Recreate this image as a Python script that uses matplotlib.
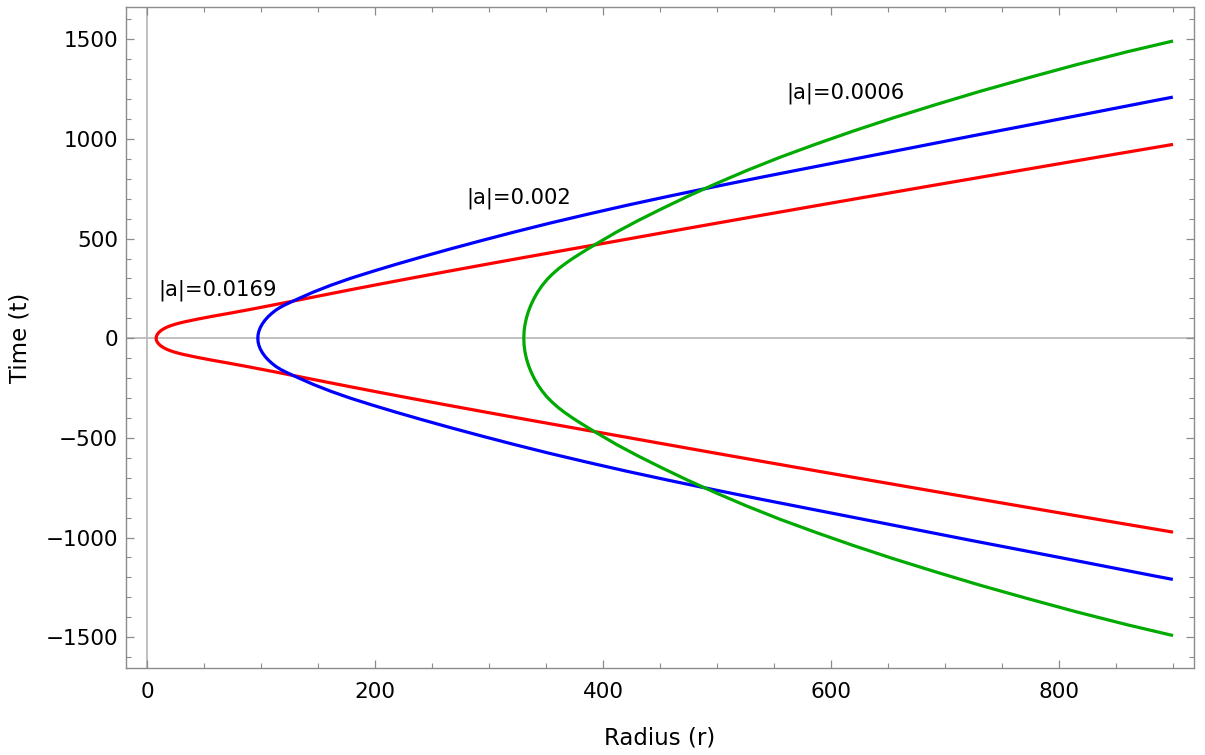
import numpy as np
import matplotlib
matplotlib.use("Agg")
import matplotlib.pyplot as plt
from matplotlib.ticker import MultipleLocator

# ---- data (upper branch; curves are mirror-symmetric in t) ----
r_red = [8, 8.25, 9, 10.25, 12, 14.25, 17, 20.25, 24, 28.25, 33, 44, 57, 72, 89, 108,
         129, 152, 177, 204, 233, 264, 297, 332, 369, 408, 449, 492, 537, 584, 633,
         684, 737, 792, 849, 900]
t_red = [0, 9.5, 19, 28.4, 37.6, 46.25, 54.6, 62.1, 69.2, 76.05, 82.5, 95.7, 109.9,
         125.2, 143.1, 164, 187.6, 213.6, 241.8, 271.6, 303, 336, 370.6, 406.8, 444.6,
         484, 526, 569.8, 615.3, 662.4, 711.25, 761.8, 814, 868, 923.65, 973]

r_blue = [97.2, 97.45, 98.2, 99.45, 101.2, 103.45, 106.2, 109.45, 113.2, 117.45, 122.2,
          127.45, 133.2, 146.2, 161.2, 178.2, 197.2, 218.2, 241.2, 266.2, 293.2, 322.2,
          353.2, 386.2, 421.2, 458.2, 497.2, 538.2, 581.2, 626.2, 673.2, 722.2, 773.2,
          826.2, 881.2, 899.8]
t_blue = [0, 18.3, 36.5, 54.6, 72.6, 90.4, 108.0, 125.1, 142.0, 157.1, 171.0, 184.8,
          199.8, 232.4, 266.0, 300.2, 334.5, 370.7, 408.6, 448.5, 490.0, 533.3, 577.6,
          622.2, 667.8, 713.5, 760.0, 807.5, 855.8, 906.2, 958.8, 1013.8, 1069.9,
          1128.6, 1190.0, 1210.3]

r_green = [330.5, 330.75, 331.5, 332.75, 334.5, 336.75, 339.5, 342.75, 346.5, 350.75,
           355.5, 360.75, 366.5, 372.75, 379.5, 386.75, 394.5, 411.5, 430.5, 451.5,
           474.5, 499.5, 526.5, 555.5, 586.5, 619.5, 654.5, 691.5, 730.5, 771.5, 814.5,
           859.5, 900]
t_green = [0, 33.5, 67, 100.5, 134, 167, 200, 233, 264, 294, 321.5, 348, 373, 398, 423,
           448.5, 475, 532, 590, 650, 713, 777, 843, 909, 974, 1040, 1106, 1172, 1239,
           1305, 1372, 1437.5, 1492]

labels = ["|a|=0.0169", "|a|=0.002", "|a|=0.0006"]
label_r = [10, 280, 561]
label_t = [243, 704, 1230]
colors = ["#FF0000", "#0000FF", "#00AA00"]

x_label = "Radius (r)"
y_label = "Time (t)"

plt.rcParams['font.family'] = ['DejaVu Sans']

fig = plt.figure(figsize=(12.05, 7.55), dpi=100)
ax = fig.add_axes([0.1043, 0.1152, 0.9909 - 0.1043, 0.9903 - 0.1152])

ax.set_xlim(-18.7, 918.4)
ax.set_ylim(-1655, 1661)

# Mathematica-style axes through origin
ax.axhline(0, color="#BBBBBB", lw=1.3, zorder=1)
ax.axvline(0, color="#BBBBBB", lw=1.3, zorder=1)

def full(r, t):
    r = np.asarray(r, float)
    t = np.asarray(t, float)
    return (np.concatenate([r[::-1], r[1:]]),
            np.concatenate([-t[::-1], t[1:]]))

for (r, t), c in zip([(r_red, t_red), (r_blue, t_blue), (r_green, t_green)], colors):
    rr, tt = full(r, t)
    ax.plot(rr, tt, color=c, lw=2.3, solid_joinstyle="round", solid_capstyle="butt", zorder=3)

for s, x, y in zip(labels, label_r, label_t):
    ax.text(x, y, s, ha="left", va="center", fontsize=15.2, color="black", zorder=4)

frame_col = "#8C8C8C"
for sp in ax.spines.values():
    sp.set_color(frame_col)
    sp.set_linewidth(1.0)

ax.xaxis.set_major_locator(MultipleLocator(200))
ax.xaxis.set_minor_locator(MultipleLocator(50))
ax.yaxis.set_major_locator(MultipleLocator(500))
ax.yaxis.set_minor_locator(MultipleLocator(100))

ax.tick_params(which="both", direction="in", top=True, right=True, color=frame_col)
ax.tick_params(which="major", length=6, width=0.9)
ax.tick_params(which="minor", length=3.5, width=0.8)
ax.tick_params(axis="x", which="major", pad=10, labelsize=15.5)
ax.tick_params(axis="y", which="major", pad=5.5, labelsize=15.5)

ax.set_xlabel(x_label, fontsize=16.5, labelpad=18)
ax.set_ylabel(y_label, fontsize=16.5, labelpad=10)

fig.savefig("out.png", dpi=100)
